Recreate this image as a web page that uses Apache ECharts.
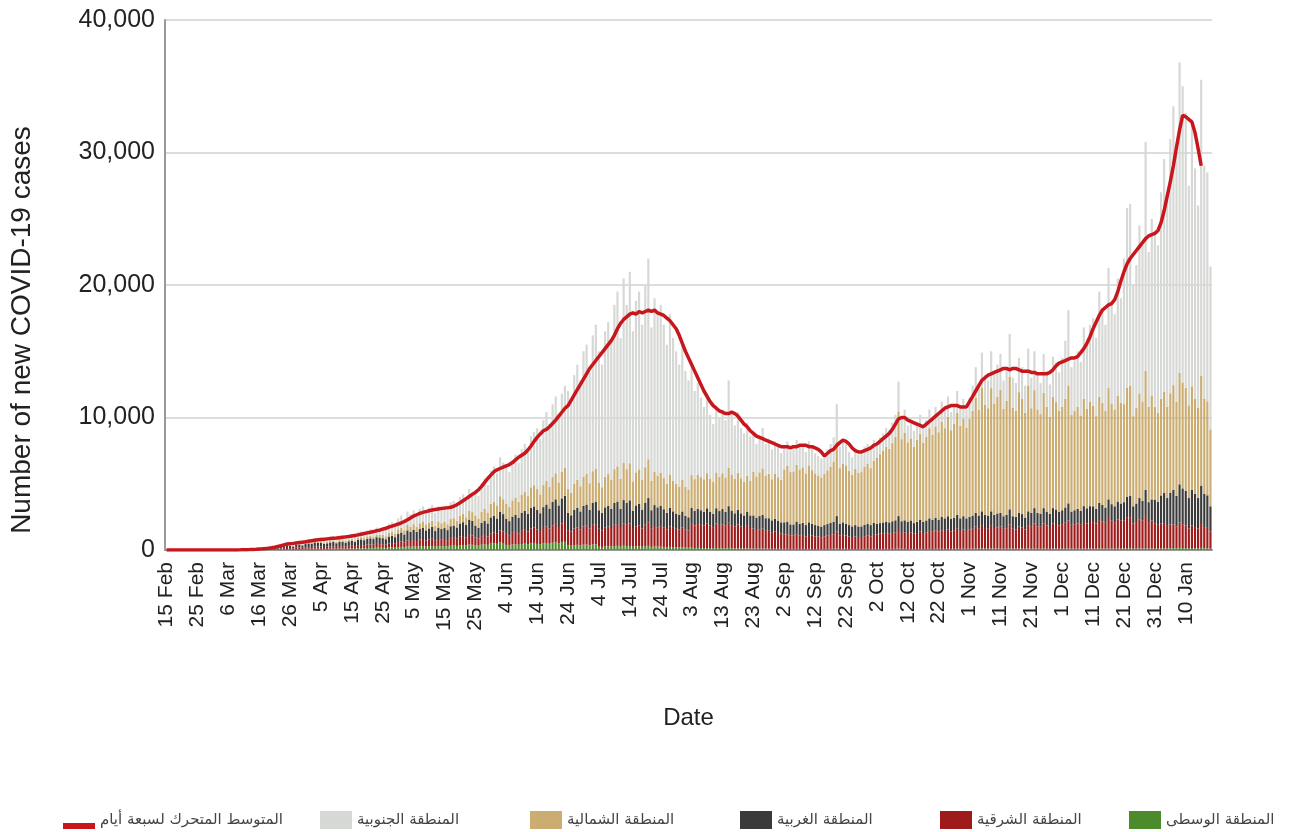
<!DOCTYPE html>
<html>
<head>
<meta charset="utf-8">
<script src="https://cdn.jsdelivr.net/npm/echarts/dist/echarts.min.js"></script>
<style>
html,body{margin:0;padding:0;background:#fff;}
#chart{width:1294px;height:832px;}
</style>
</head>
<body>
<div id="chart"></div>
<script>
// Daily categories: 15 Feb 2020 .. 18 Jan 2021
var startDate = Date.UTC(2020, 1, 15);
var dayCount = 339;
var monthNames = ['Jan','Feb','Mar','Apr','May','Jun','Jul','Aug','Sep','Oct','Nov','Dec'];
var categories = [];
for (var i = 0; i < dayCount; i++) {
  var dt = new Date(startDate + i * 86400000);
  categories.push(dt.getUTCDate() + ' ' + monthNames[dt.getUTCMonth()]);
}

var seriesNames = ['المنطقة الوسطى','المنطقة الشرقية','المنطقة الغربية','المنطقة الشمالية','المنطقة الجنوبية','المتوسط المتحرك لسبعة أيام'];
var yAxisTitle = 'Number of new COVID-19 cases';
var xAxisTitle = 'Date';

var central = [
0,0,0,0,0,0,0,0,0,0,
0,0,0,0,0,0,0,0,0,0,
0,1,1,2,2,4,4,6,8,10,
14,11,18,22,28,30,40,45,55,60,
55,50,70,75,65,85,95,90,105,100,
95,80,90,100,105,90,110,105,100,115,
120,105,135,140,130,150,155,145,170,165,
160,145,180,190,170,215,235,205,260,245,
270,245,280,300,260,290,305,250,300,280,
300,270,320,330,305,360,380,340,410,395,
360,330,400,430,390,480,500,465,560,530,
385,355,410,430,395,455,480,445,515,535,
460,420,490,520,475,550,580,510,590,620,
350,320,370,390,360,400,410,360,420,430,
250,230,270,280,260,300,310,260,320,300,
300,240,270,280,250,290,310,240,270,260,
250,230,210,240,220,200,190,210,180,170,
170,150,160,150,140,150,140,130,150,140,
140,130,160,130,120,130,120,110,120,110,
110,100,110,110,100,100,90,100,90,90,
90,90,80,80,90,80,90,80,90,80,
80,80,70,80,80,90,90,110,80,90,
90,80,80,80,80,80,90,90,80,90,
80,80,80,90,80,90,90,110,90,90,
80,80,80,80,90,80,80,90,80,90,
90,90,90,100,90,90,100,90,100,90,
100,100,110,100,120,110,100,120,110,110,
110,100,100,120,100,100,110,110,100,120,
100,110,100,100,110,100,90,110,110,100,
100,110,120,100,100,100,100,110,100,110,
100,100,110,110,100,120,110,100,110,110,
110,130,130,100,110,120,110,140,110,120,
110,100,120,130,120,130,140,130,160,150,
150,120,150,130,120,160,130,130,100
];

var eastern = [
0,0,0,0,0,0,0,0,0,0,
0,0,0,0,0,0,0,0,0,0,
1,1,2,3,3,5,6,8,12,15,
20,16,27,32,40,48,60,68,80,95,
85,75,105,115,100,125,140,135,160,150,
160,140,150,170,180,150,185,185,165,195,
200,180,230,240,220,255,265,245,290,280,
280,255,320,335,305,385,415,370,465,430,
480,430,495,530,465,510,545,450,530,495,
530,480,575,590,545,640,670,610,735,705,
585,535,650,700,635,780,820,755,910,860,
830,765,885,935,860,990,1040,960,1120,1155,
1100,1010,1175,1250,1140,1320,1390,1225,1415,1490,
1150,1080,1250,1320,1200,1380,1420,1260,1480,1520,
1350,1260,1450,1500,1400,1600,1650,1400,1700,1600,
1700,1350,1520,1580,1380,1620,1780,1360,1540,1460,
1550,1450,1350,1550,1450,1400,1350,1500,1350,1300,
1800,1700,1800,1750,1700,1850,1700,1600,1850,1750,
1800,1700,1900,1750,1650,1800,1650,1550,1700,1550,
1500,1400,1450,1500,1350,1350,1250,1300,1200,1150,
1100,1100,1000,1000,1100,1000,1050,950,1050,1000,
950,950,900,950,1000,1050,1100,1300,1000,1050,
1000,950,900,950,900,900,950,1000,950,1050,
1100,1150,1150,1200,1150,1200,1250,1400,1200,1250,
1200,1250,1150,1200,1300,1200,1250,1350,1300,1400,
1300,1400,1350,1450,1300,1400,1500,1350,1450,1350,
1450,1500,1650,1500,1700,1550,1500,1700,1550,1600,
1650,1500,1550,1800,1500,1450,1650,1600,1450,1700,
1700,1900,1700,1650,1900,1750,1650,1900,1850,1750,
1850,1950,2100,1800,1850,1900,1800,2000,1900,2000,
2000,1900,2150,2050,1950,2300,2100,2000,2200,2100,
2100,2300,2300,1900,2000,2200,2100,2500,2000,2100,
1900,1800,1900,1900,1700,1800,1800,1650,1900,1800,
1700,1500,1700,1600,1500,1800,1600,1600,1300
];

var western = [
0,0,0,0,0,0,0,0,0,0,
0,0,0,0,1,0,2,0,3,2,
2,2,4,5,7,10,12,16,25,35,
38,32,52,63,80,90,115,130,155,185,
160,140,200,215,185,240,260,250,300,280,
285,245,265,300,315,270,330,325,295,345,
360,315,405,420,390,450,465,435,510,495,
455,415,520,545,495,625,675,600,755,700,
780,700,805,860,755,830,885,730,860,805,
825,750,900,925,850,1000,1050,950,1150,1100,
900,820,1000,1080,980,1200,1260,1160,1400,1320,
1150,1060,1225,1295,1190,1370,1440,1330,1550,1600,
1470,1345,1570,1665,1520,1760,1855,1630,1890,1985,
1300,1220,1400,1480,1350,1560,1600,1420,1650,1700,
1400,1300,1500,1550,1450,1650,1700,1450,1750,1650,
1750,1380,1570,1630,1420,1670,1830,1400,1580,1500,
1550,1400,1250,1400,1250,1150,1100,1200,1050,1000,
1200,1100,1150,1100,1050,1150,1050,1000,1150,1050,
1150,1050,1250,1100,1000,1100,1000,950,1050,950,
1000,950,1000,1050,950,950,900,950,900,850,
900,950,850,850,950,900,900,850,950,900,
850,800,800,850,880,900,950,1150,900,950,
900,850,800,850,800,800,850,900,850,900,
800,800,850,850,850,880,900,1050,880,900,
850,900,800,850,900,850,900,950,900,950,
900,1000,950,1000,950,950,1050,950,1000,950,
950,1000,1050,1000,1100,1000,1000,1100,1000,1050,
1050,950,1000,1150,950,950,1050,1000,900,1100,
1000,1150,1000,1000,1150,1050,1000,1150,1100,1050,
1050,1150,1300,1000,1050,1100,1050,1200,1150,1200,
1200,1100,1300,1250,1150,1400,1250,1200,1350,1300,
1400,1600,1650,1300,1400,1600,1500,1900,1500,1600,
1800,1750,2100,2300,2100,2400,2600,2300,2900,2700,
2600,2300,2700,2500,2300,2900,2500,2400,1900
];

var northern = [
0,0,0,0,0,0,0,0,0,0,
0,0,0,0,0,0,0,0,0,0,
0,0,0,1,1,2,3,3,5,6,
11,9,15,18,23,27,33,40,45,55,
50,45,65,70,60,75,85,80,95,90,
115,100,105,120,125,110,130,130,115,140,
145,125,160,170,155,180,185,175,205,200,
245,225,280,295,265,335,365,320,405,380,
420,380,435,460,405,450,475,390,460,435,
495,450,540,555,510,600,630,570,690,660,
765,695,850,920,835,1020,1070,985,1190,1120,
1150,1060,1225,1295,1190,1370,1440,1330,1550,1600,
1565,1430,1665,1770,1615,1870,1970,1735,2005,2110,
1800,1700,2000,2100,1900,2200,2300,2000,2400,2500,
2100,1950,2300,2400,2200,2550,2650,2250,2800,2550,
2800,2200,2500,2600,2270,2670,2930,2240,2530,2400,
2500,2350,2200,2500,2300,2250,2150,2400,2200,2100,
2500,2400,2550,2500,2450,2650,2500,2400,2700,2600,
2700,2600,2900,2700,2600,2800,2650,2550,2750,2600,
3300,3100,3300,3500,3200,3350,3100,3400,3300,3200,
4000,4200,3950,4000,4300,4100,4200,3900,4300,4050,
3900,3800,3700,3850,4050,4250,4500,5600,4200,4400,
4400,4100,3900,4250,4050,4100,4400,4500,4300,4700,
5000,5200,5400,5650,5550,5900,6300,7900,6200,6600,
6000,6200,5750,6200,6500,5950,6300,6800,6400,6900,
6600,7200,6800,7500,6700,7100,7700,7000,7350,6850,
7400,7900,8700,8000,9300,8300,8100,9300,8400,8800,
9300,8100,8600,10000,8200,8000,9100,8700,7900,9500,
7900,8900,7800,7500,8700,7900,7300,8400,8100,7600,
7800,8200,8900,7300,7500,7700,7200,8100,7500,7900,
7600,7000,8000,7700,7300,8400,7600,7300,8000,7600,
7400,8200,8300,6800,7200,7900,7500,9000,7200,7800,
7000,6700,7300,7600,6900,7500,7900,7100,8400,8000,
7800,7000,7800,7200,6800,8300,7200,7100,5800
];

var southern = [
0,0,0,0,0,0,0,0,0,0,
0,0,0,0,0,0,0,0,0,0,
0,1,1,1,2,4,5,7,10,14,
27,22,38,45,59,65,82,97,115,135,
130,110,160,175,150,195,220,205,240,230,
295,255,270,310,325,280,345,335,305,355,
375,325,420,430,405,465,480,450,525,510,
610,560,700,735,665,840,910,805,1015,945,
1050,945,1085,1150,1015,1120,1190,980,1150,1085,
1150,1050,1265,1300,1190,1400,1470,1330,1615,1540,
1890,1720,2100,2270,2060,2520,2650,2435,2940,2770,
2885,2660,3055,3245,2965,3415,3600,3335,3865,4010,
4605,4195,4900,5195,4750,5500,5805,5100,5905,6195,
7400,6880,8180,8710,7990,9460,9770,8360,10250,10850,
9900,9260,10980,11470,10490,12400,13190,10640,13930,12400,
14450,11330,12940,13410,11680,13750,15150,11560,13080,12380,
12650,11570,10490,12110,10780,10000,9210,10190,8720,8230,
8130,6650,6940,6000,5460,6000,4810,4370,5050,4460,
4810,4320,6590,4520,4030,4570,3780,3640,3980,3390,
2990,2450,2740,3040,2400,2650,2260,2450,2310,2010,
1810,1860,1620,1670,1860,1720,1760,1620,1810,1670,
1520,1470,1430,1470,1590,1710,1860,2840,1620,1710,
1610,1420,1320,1470,1370,1420,1510,1510,1420,1560,
1220,1270,1320,1410,1370,1530,1660,2240,1630,1760,
1270,1370,1220,1270,1410,1220,1270,1410,1320,1460,
1310,1510,1410,1550,1360,1460,1650,1410,1500,1360,
1600,1900,2290,2000,2680,2240,2100,2780,2340,2440,
2690,2150,2350,3230,2250,2100,2590,2390,2050,2780,
2300,2940,2600,2350,2940,2700,2460,3040,3040,2900,
3700,4390,5680,3600,3800,4200,4050,5390,4850,5790,
6600,5900,7940,7090,6500,9080,7440,7200,8840,7890,
10990,13570,13720,9900,10790,12680,11790,17260,11690,13380,
13190,12650,15580,17570,15680,19170,21060,18820,23440,22350,
20750,16580,20150,17370,15280,22340,17570,17270,12300
];

var movingAvg = [
0,0,0,0,0,0,0,0,0,0,
0,0,0,0,0,0,1,1,1,1,
2,3,4,6,10,15,22,30,45,60,
80,95,115,140,170,210,260,320,390,450,
480,500,530,560,590,620,660,700,740,780,
800,820,840,860,880,900,930,960,990,1020,
1060,1100,1140,1190,1240,1290,1340,1390,1450,1500,
1570,1640,1720,1800,1880,1960,2050,2150,2280,2420,
2560,2660,2760,2840,2900,2960,3020,3060,3100,3140,
3160,3180,3220,3300,3420,3560,3720,3880,4040,4200,
4350,4550,4800,5100,5400,5650,5900,6050,6150,6250,
6350,6450,6600,6800,7000,7150,7300,7550,7850,8200,
8500,8750,9000,9100,9300,9550,9800,10100,10400,10700,
10900,11300,11700,12100,12500,12900,13300,13700,14000,14300,
14600,14900,15200,15500,15800,16200,16700,17100,17400,17600,
17800,17900,17800,18000,17900,18000,18100,18000,18100,17900,
17800,17700,17500,17300,17000,16700,16200,15600,15000,14500,
14000,13500,13000,12500,12000,11600,11200,10900,10700,10500,
10400,10300,10300,10400,10300,10100,9800,9500,9300,9000,
8800,8600,8500,8400,8300,8200,8100,8000,7900,7800,
7800,7800,7700,7800,7800,7900,7900,7900,7800,7800,
7700,7600,7400,7100,7300,7500,7600,7900,8100,8300,
8200,8000,7700,7500,7400,7400,7500,7600,7700,7900,
8000,8200,8400,8600,8800,9100,9500,9900,10000,10000,
9800,9700,9600,9500,9400,9300,9500,9700,9900,10100,
10300,10500,10700,10800,10900,10900,10900,10800,10800,10800,
11200,11600,12000,12400,12800,13000,13200,13300,13400,13500,
13600,13700,13700,13600,13700,13700,13600,13500,13500,13500,
13400,13400,13300,13300,13300,13300,13400,13600,13900,14100,
14200,14300,14400,14500,14500,14600,14900,15200,15600,16100,
16700,17200,17700,18100,18300,18500,18600,18900,19500,20300,
21000,21600,22000,22300,22600,22900,23200,23500,23700,23800,
23900,24100,24700,25600,26700,27800,29000,30400,31700,32800,
32700,32500,32300,31500,30300,29000,null,null,null
];

var yTicks = [0, 10000, 20000, 30000, 40000];

var colors = ['#4b8b2b', '#9e1b1b', '#3a3a3a', '#cbad72', '#d6d8d5', '#c8161d'];
var regionData = [central, eastern, western, northern, southern];

var chart = echarts.init(document.getElementById('chart'), null, {renderer: 'canvas'});

var series = [];
for (var k = 0; k < 5; k++) {
  series.push({
    name: seriesNames[k],
    type: 'bar',
    stack: 'regions',
    data: regionData[k],
    barCategoryGap: '30%',
    itemStyle: {color: colors[k]},
    emphasis: {disabled: true},
    z: 2
  });
}
series.push({
  name: seriesNames[5],
  type: 'line',
  data: movingAvg,
  symbol: 'none',
  connectNulls: false,
  lineStyle: {color: colors[5], width: 3.5},
  itemStyle: {color: colors[5]},
  z: 5
});

var legendText = {fontSize: 15, color: '#444', fontFamily: 'DejaVu Sans, Noto Sans, sans-serif'};
function mkLegend(idx, left, icon) {
  return {
    data: [{name: seriesNames[idx], icon: icon}],
    left: left,
    top: 806,
    itemWidth: 32,
    itemHeight: 18,
    itemGap: 0,
    textStyle: legendText,
    selectedMode: false
  };
}
// thin bar placed low in an 18px box (the first, empty subpath only fixes the box top)
var lineIcon = 'path://M0,0 L32,0 L32,0 Z M0,12 L32,12 L32,18 L0,18 Z';

var option = {
  animation: false,
  backgroundColor: '#ffffff',
  grid: {left: 165, right: 82, top: 20, bottom: 282, containLabel: false},
  legend: [
    mkLegend(5, 58, lineIcon),
    mkLegend(4, 315, 'rect'),
    mkLegend(3, 525, 'rect'),
    mkLegend(2, 735, 'rect'),
    mkLegend(1, 935, 'rect'),
    mkLegend(0, 1124, 'rect')
  ],
  graphic: [{
    type: 'text',
    x: 22,
    y: 330,
    rotation: Math.PI / 2,
    style: {
      text: yAxisTitle,
      fontSize: 28,
      fill: '#222',
      fontFamily: 'Liberation Sans, Arial, sans-serif',
      align: 'center',
      verticalAlign: 'middle'
    }
  }],
  xAxis: {
    type: 'category',
    data: categories,
    name: xAxisTitle,
    nameLocation: 'middle',
    nameGap: 156,
    nameTextStyle: {fontSize: 24, color: '#222', fontFamily: 'Liberation Sans, Arial, sans-serif'},
    axisLine: {lineStyle: {color: '#999', width: 2}},
    axisTick: {show: false},
    axisLabel: {
      interval: 9,
      rotate: 90,
      fontSize: 21,
      color: '#222',
      margin: 12,
      fontFamily: 'Liberation Sans, Arial, sans-serif'
    }
  },
  yAxis: {
    type: 'value',
    min: yTicks[0],
    max: yTicks[yTicks.length - 1],
    interval: yTicks[1] - yTicks[0],
    axisLine: {show: true, lineStyle: {color: '#999', width: 2}},
    axisTick: {show: false},
    splitLine: {lineStyle: {color: '#d2d2d2', width: 1.5}},
    axisLabel: {
      fontSize: 25,
      color: '#222',
      margin: 10,
      fontFamily: 'Liberation Sans, Arial, sans-serif',
      formatter: function (v) { return v.toLocaleString('en-US'); }
    }
  },
  series: series
};
chart.setOption(option);
</script>
</body>
</html>
